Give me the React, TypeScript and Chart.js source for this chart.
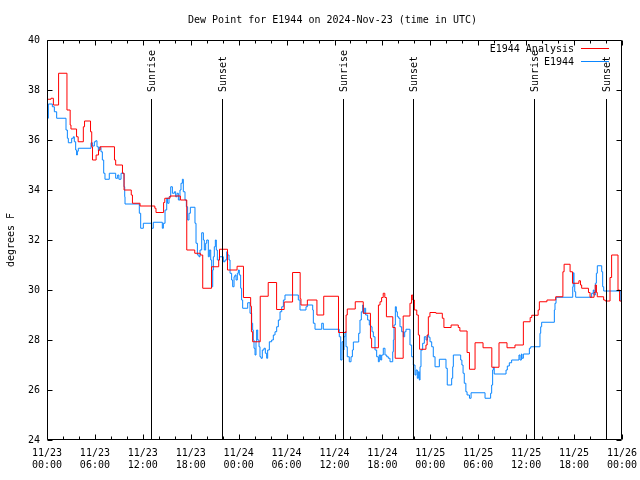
import React, { useEffect, useRef } from "react";
import { Chart, registerables } from "chart.js";

Chart.register(...registerables);

const TITLE = "Dew Point for E1944 on 2024-Nov-23 (time in UTC)";
const Y_TITLE = "degrees F";
const MONTH = 11;
const START_DAY = 23;
const SERIES_NAMES = ["E1944 Analysis", "E1944"];
const SERIES_COLORS = ["#ff0000", "#0a86ff"];

// hours since 11/23 00:00 UTC where the value changes (step data)
const analysisHours = [
  0, 0.5, 0.8, 1.45, 2.5, 2.9, 3.0, 3.7, 3.9, 4.55, 4.7, 5.45, 5.6, 5.7, 6.15, 6.45, 6.65, 8.45, 8.6, 9.45,
  9.65, 10.55, 10.7, 11.65, 13.5, 13.65, 14.6, 14.75, 15.4, 16.7, 17.5, 18.5, 19.2, 19.5, 20.6, 21.5, 21.6,
  22.6, 23.8, 24.6, 25.5, 25.6, 25.75, 26.7, 27.7, 28.75, 29.7, 30.75, 31.7, 31.8, 32.6, 33.8, 34.65, 36.5,
  37.45, 37.6, 38.6, 39.6, 40.5, 40.65, 41.5, 41.7, 41.9, 42.1, 42.3, 42.5, 43.3, 43.6, 44.6, 45.45, 45.65,
  45.8, 46.0, 46.3, 46.5, 46.65, 47.45, 47.6, 47.75, 47.95, 48.7, 49.5, 49.7, 50.6, 51.5, 51.7, 52.6, 52.9,
  53.6, 54.6, 55.7, 56.6, 57.6, 58.6, 59.65, 60.5, 60.7, 61.5, 61.65, 62.6, 63.7, 64.6, 64.75, 65.5, 65.8,
  66.6, 66.8, 66.95, 67.8, 68.0, 68.5, 68.65, 68.8, 68.9, 69.7, 69.9, 70.5, 70.7, 71.5, 71.7, 71.95,
];
const analysisValues = [
  37.63, 37.67, 37.4, 38.67, 37.2, 36.6, 36.44, 36.13, 35.93, 36.53, 36.76, 36.33, 35.73, 35.2, 35.4, 35.6,
  35.73, 35.2, 35.0, 34.67, 34.0, 33.8, 33.47, 33.36, 33.27, 33.1, 33.5, 33.67, 33.76, 33.6, 31.6, 31.47,
  31.4, 30.07, 30.93, 31.2, 31.63, 30.8, 30.95, 29.7, 29.35, 28.33, 27.93, 29.75, 30.3, 29.22, 29.52, 30.7,
  29.65, 29.4, 29.6, 29.0, 29.75, 28.3, 29.0, 29.24, 29.53, 29.07, 28.07, 27.69, 29.4, 29.53, 29.7, 29.87,
  29.7, 28.93, 28.5, 27.27, 28.96, 29.47, 29.8, 29.6, 29.2, 29.0, 28.2, 27.63, 27.8, 28.2, 28.93, 29.1,
  29.07, 28.87, 28.5, 28.6, 28.5, 28.36, 27.5, 26.83, 27.89, 27.69, 26.91, 27.89, 27.69, 27.8, 28.73, 28.9,
  28.99, 29.2, 29.53, 29.6, 29.73, 30.73, 31.03, 30.73, 30.27, 30.37, 30.2, 30.07, 29.9, 29.71, 29.9, 30.2,
  29.9, 29.73, 29.6, 29.56, 30.5, 31.4, 30.0, 29.56, 29.56,
];

const obsHours = [
  0, 0.17, 0.67, 0.92, 1.21, 2.38, 2.55, 2.67, 3.09, 3.3, 3.42, 3.59, 3.71, 3.8, 3.92, 5.51, 5.68, 5.93, 6.1,
  6.26, 6.43, 6.55, 6.76, 6.93, 7.1, 7.26, 7.8, 8.6, 8.85, 9.0, 9.27, 9.64, 9.73, 9.77, 11.56, 11.73, 12.06,
  13.1, 13.31, 14.44, 14.57, 14.78, 14.99, 15.1, 15.28, 15.49, 15.7, 15.95, 16.11, 16.28, 16.45, 16.65, 16.78,
  16.95, 17.07, 17.28, 17.45, 17.61, 17.78, 17.95, 18.53, 18.66, 18.83, 19.03, 19.16, 19.37, 19.58, 19.7,
  19.87, 20.0, 20.2, 20.33, 20.5, 20.62, 20.75, 20.83, 20.95, 21.08, 21.2, 21.33, 21.58, 22.08, 22.29, 22.5,
  22.62, 22.79, 22.92, 23.12, 23.25, 23.42, 23.54, 23.67, 23.83, 23.96, 24.08, 24.25, 24.37, 24.5, 25.13,
  25.42, 25.63, 25.75, 25.83, 25.92, 26.05, 26.17, 26.25, 26.38, 26.55, 26.67, 26.8, 26.96, 27.17, 27.34,
  27.51, 27.63, 27.84, 28.13, 28.34, 28.55, 28.76, 28.97, 29.18, 29.39, 29.6, 29.8, 31.47, 31.68, 32.43,
  32.6, 33.27, 33.35, 33.56, 34.4, 34.6, 36.6, 36.78, 36.94, 37.1, 37.19, 37.32, 37.44, 37.6, 37.85, 38.07,
  38.24, 38.36, 39.03, 39.19, 39.36, 39.53, 39.61, 39.73, 39.9, 40.15, 40.36, 40.53, 40.7, 40.86, 41.07,
  41.28, 41.49, 41.61, 41.78, 41.91, 42.11, 42.32, 42.54, 42.74, 42.95, 43.29, 43.37, 43.45, 43.62, 43.74,
  43.87, 44.04, 44.2, 44.41, 44.62, 44.79, 44.95, 45.45, 45.66, 45.87, 46.08, 46.21, 46.37, 46.5, 46.62,
  46.71, 46.83, 47.04, 47.25, 47.46, 47.63, 47.8, 47.96, 48.17, 48.37, 48.59, 49.13, 49.96, 50.12, 50.67,
  50.8, 50.88, 51.8, 51.95, 52.1, 52.25, 52.45, 52.6, 52.9, 53.1, 54.85, 55.55, 55.68, 55.8, 55.89, 56.0,
  57.48, 57.64, 57.89, 58.18, 59.1, 59.23, 59.4, 59.48, 59.65, 60.4, 60.57, 61.73, 61.82, 61.94, 63.53,
  63.61, 63.74, 65.83, 65.9, 65.99, 66.08, 66.2, 68.2, 68.4, 68.5, 68.66, 68.79, 68.91, 69.46, 69.58, 69.71,
  71.85, 71.95,
];
const obsValues = [
  36.87, 37.44, 37.33, 37.13, 36.87, 36.4, 36.07, 35.89, 36.07, 36.13, 35.93, 35.6, 35.4, 35.55, 35.67,
  35.89, 35.76, 35.93, 35.97, 35.73, 35.57, 35.71, 35.53, 35.2, 34.67, 34.43, 34.67, 34.47, 34.6, 34.43,
  34.67, 34.13, 33.73, 33.44, 33.07, 32.47, 32.67, 32.47, 32.71, 32.47, 32.67, 33.2, 33.67, 33.47, 33.73,
  34.13, 33.87, 33.93, 33.73, 33.87, 33.6, 34.0, 34.27, 34.43, 33.93, 33.6, 33.33, 32.8, 33.07, 33.31,
  32.67, 31.87, 31.4, 31.33, 31.6, 32.29, 32.0, 31.6, 31.87, 32.0, 31.33, 31.6, 31.2, 30.13, 30.8, 31.33,
  31.73, 32.0, 31.6, 31.2, 31.33, 31.13, 31.2, 31.53, 31.4, 31.2, 30.67, 30.4, 30.13, 30.53, 30.6, 30.4,
  30.67, 30.8, 30.6, 30.07, 29.6, 29.27, 29.49, 29.07, 28.67, 28.4, 28.0, 27.67, 27.4, 27.93, 28.4, 28.0,
  27.73, 27.33, 27.27, 27.6, 27.67, 27.47, 27.27, 27.6, 27.93, 28.0, 28.2, 28.33, 28.53, 28.8, 29.13, 29.33,
  29.6, 29.8, 29.6, 29.2, 29.33, 29.4, 29.2, 28.67, 28.43, 28.67, 28.43, 28.13, 27.2, 27.93, 27.6, 28.13,
  28.33, 27.73, 27.33, 27.13, 27.33, 27.6, 27.92, 28.27, 28.8, 29.13, 29.4, 29.07, 29.27, 29.0, 28.8, 28.6,
  28.53, 28.33, 28.13, 27.6, 27.33, 27.13, 27.4, 27.2, 27.4, 27.67, 27.4, 27.33, 27.27, 27.13, 27.53, 28.0,
  28.6, 29.33, 29.13, 28.93, 28.87, 28.53, 28.33, 28.13, 28.33, 28.43, 27.8, 27.33, 27.0, 26.6, 26.8, 26.47,
  26.73, 26.4, 26.93, 27.6, 27.87, 28.13, 28.0, 28.19, 28.11, 27.93, 27.73, 27.33, 26.93, 27.23, 26.87,
  26.2, 26.47, 26.93, 27.4, 27.2, 27.0, 26.67, 26.27, 25.93, 25.8, 25.67, 25.89, 25.67, 25.87, 26.2, 26.8,
  26.91, 26.64, 26.8, 26.96, 27.09, 27.2, 27.4, 27.2, 27.44, 27.27, 27.44, 27.67, 27.73, 28.27, 28.53,
  28.71, 29.2, 29.47, 29.71, 30.13, 30.69, 30.27, 29.93, 29.71, 29.87, 30.0, 29.8, 30.27, 30.67, 30.97,
  30.73, 30.13, 29.96, 29.55, 29.55,
];

const sunriseHours = [13.05, 37.1, 61.0];
const sunsetHours = [21.95, 45.87, 69.95];
const SUN_LINE_TOP = 37.64; // degrees F where the sun markers start

const X_MIN = 0;
const X_MAX = 72;
const X_LABEL_STEP = 6;
const X_MINOR_STEP = 2;
const Y_MIN = 24;
const Y_MAX = 40;
const Y_STEP = 2;

const FONT = "'DejaVu Sans Mono', 'Liberation Mono', monospace";

function toPoints(xs: number[], ys: number[]) {
  return xs.map((x, i) => ({ x, y: ys[i] }));
}

const decorPlugin = {
  id: "gnuplotDecor",
  afterDatasetsDraw(chart: any) {
    const { ctx, chartArea, scales } = chart;
    const xs = scales.x;
    const ys = scales.y;
    const { left, right, top, bottom } = chartArea;
    ctx.save();
    ctx.strokeStyle = "#000";
    ctx.lineWidth = 1;

    // sunrise / sunset markers
    const lineTop = ys.getPixelForValue(SUN_LINE_TOP);
    const drawSun = (hours: number[], label: string) => {
      hours.forEach((h) => {
        const px = Math.round(xs.getPixelForValue(h)) + 0.5;
        ctx.beginPath();
        ctx.moveTo(px, Math.round(lineTop));
        ctx.lineTo(px, bottom);
        ctx.stroke();
        ctx.save();
        ctx.translate(px + 1, lineTop - 7);
        ctx.rotate(-Math.PI / 2);
        ctx.fillStyle = "#000";
        ctx.font = `10px ${FONT}`;
        ctx.textAlign = "left";
        ctx.textBaseline = "middle";
        ctx.fillText(label, 0, 0);
        ctx.restore();
      });
    };
    drawSun(sunriseHours, "Sunrise");
    drawSun(sunsetHours, "Sunset");

    // frame
    const l = Math.round(left) + 0.5;
    const r = Math.round(right) - 0.5;
    const t = Math.round(top) + 0.5;
    const b = Math.round(bottom) - 0.5;
    ctx.beginPath();
    ctx.rect(l, t, r - l, b - t);
    ctx.stroke();

    // inward ticks
    ctx.beginPath();
    for (let h = X_MIN; h <= X_MAX; h += X_MINOR_STEP) {
      const px = Math.round(xs.getPixelForValue(h)) + 0.5;
      const len = h % X_LABEL_STEP === 0 ? 5 : 3;
      ctx.moveTo(px, b);
      ctx.lineTo(px, b - len);
      ctx.moveTo(px, t);
      ctx.lineTo(px, t + len);
    }
    for (let v = Y_MIN; v <= Y_MAX; v += Y_STEP) {
      const py = Math.round(ys.getPixelForValue(v)) + 0.5;
      ctx.moveTo(l, py);
      ctx.lineTo(l + 5, py);
      ctx.moveTo(r, py);
      ctx.lineTo(r - 5, py);
    }
    ctx.stroke();

    // legend
    ctx.font = `10px ${FONT}`;
    ctx.textBaseline = "middle";
    ctx.textAlign = "right";
    SERIES_NAMES.forEach((name, i) => {
      const y = top + 9 + i * 13;
      ctx.fillStyle = "#000";
      ctx.fillText(name, right - 48, y);
      ctx.strokeStyle = SERIES_COLORS[i];
      ctx.beginPath();
      ctx.moveTo(right - 41, Math.round(y) - 0.5);
      ctx.lineTo(right - 13, Math.round(y) - 0.5);
      ctx.stroke();
    });

    // title
    ctx.fillStyle = "#000";
    ctx.textAlign = "center";
    ctx.textBaseline = "middle";
    ctx.fillText(TITLE, (left + right) / 2 - 2, top - 20);
    ctx.restore();
  },
};

export default function App() {
  const canvasRef = useRef<HTMLCanvasElement | null>(null);

  useEffect(() => {
    const canvas = canvasRef.current;
    if (!canvas) return;
    Chart.defaults.font.family = FONT;
    Chart.defaults.font.size = 10;
    Chart.defaults.color = "#000";

    const chart = new Chart(canvas, {
      type: "line",
      data: {
        datasets: [
          {
            label: SERIES_NAMES[0],
            data: toPoints(analysisHours, analysisValues),
            borderColor: SERIES_COLORS[0],
            backgroundColor: SERIES_COLORS[0],
            borderWidth: 1,
            pointRadius: 0,
            stepped: true,
            fill: false,
          },
          {
            label: SERIES_NAMES[1],
            data: toPoints(obsHours, obsValues),
            borderColor: SERIES_COLORS[1],
            backgroundColor: SERIES_COLORS[1],
            borderWidth: 1,
            pointRadius: 0,
            stepped: true,
            fill: false,
          },
        ],
      },
      options: {
        animation: false,
        responsive: false,
        devicePixelRatio: 1,
        layout: { padding: { top: 40, right: 18, left: 0, bottom: 0 } },
        plugins: {
          legend: { display: false },
          tooltip: { enabled: false },
          title: { display: false },
        },
        scales: {
          x: {
            type: "linear",
            min: X_MIN,
            max: X_MAX,
            grid: { display: false, drawTicks: false },
            border: { display: false },
            ticks: {
              stepSize: X_LABEL_STEP,
              autoSkip: false,
              maxRotation: 0,
              padding: 7,
              font: { size: 10, lineHeight: 1.2 },
              callback: (value: any) => {
                const h = Number(value);
                const day = START_DAY + Math.floor(h / 24);
                const hh = h % 24;
                return [`${MONTH}/${day}`, `${String(hh).padStart(2, "0")}:00`];
              },
            },
            afterFit: (scale: any) => {
              scale.height = 40;
              scale.paddingLeft = 0;
              scale.paddingRight = 0;
            },
          },
          y: {
            min: Y_MIN,
            max: Y_MAX,
            grid: { display: false, drawTicks: false },
            border: { display: false },
            ticks: {
              stepSize: Y_STEP,
              padding: 7,
              font: { size: 10 },
            },
            title: {
              display: true,
              text: Y_TITLE,
              font: { size: 10, lineHeight: 1.2 },
              padding: { top: 5, bottom: 0 },
            },
            afterFit: (scale: any) => {
              scale.width = 47;
              scale.paddingTop = 0;
              scale.paddingBottom = 0;
            },
          },
        },
      },
      plugins: [decorPlugin],
    });
    return () => chart.destroy();
  }, []);

  return (
    <div style={{ position: "absolute", left: 0, top: 0, width: 640, height: 480, background: "#fff" }}>
      <canvas ref={canvasRef} width={640} height={480} style={{ display: "block" }} />
    </div>
  );
}
